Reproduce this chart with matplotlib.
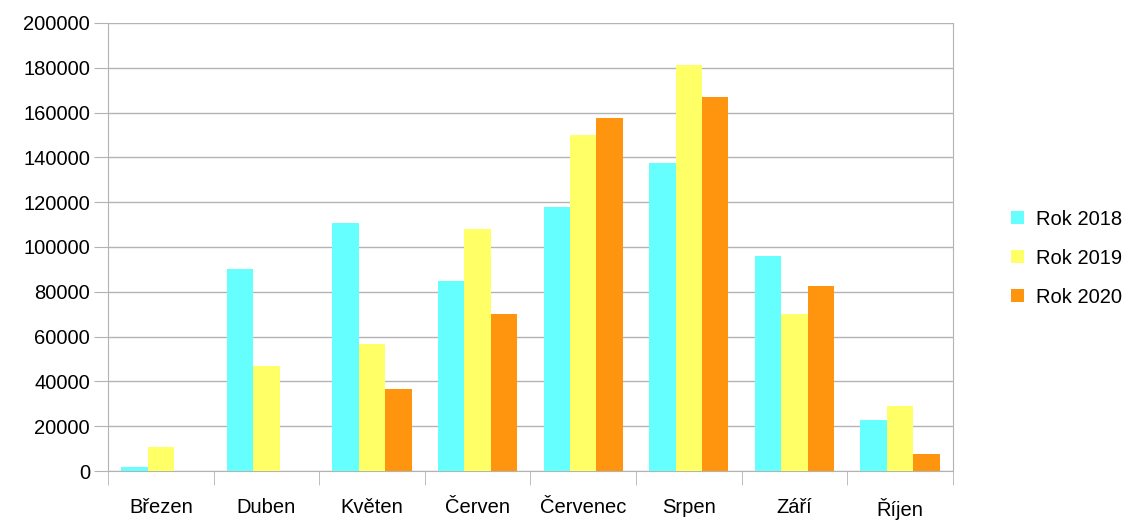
import matplotlib.pyplot as plt
import numpy as np

plt.rcParams['font.family'] = ['Liberation Sans', 'DejaVu Sans']

months = ['Březen', 'Duben', 'Květen', 'Červen', 'Červenec', 'Srpen', 'Září', 'Říjen']
rok_2018 = [1800, 90000, 110700, 84800, 117900, 137500, 96000, 22800]
rok_2019 = [10600, 47000, 56700, 108000, 150000, 181200, 70000, 29000]
rok_2020 = [0, 0, 36600, 70000, 157600, 167000, 82600, 7600]

series = [('Rok 2018', rok_2018, '#66ffff'),
          ('Rok 2019', rok_2019, '#ffff66'),
          ('Rok 2020', rok_2020, '#ff950e')]

fig = plt.figure(figsize=(11.37, 5.2), dpi=100)
ax = fig.add_axes([0.095, 0.094, 0.743, 0.862])

x = np.arange(len(months))
w = 0.25
for i, (name, vals, col) in enumerate(series):
    ax.bar(x + (i - 1) * w, vals, w, color=col, label=name, zorder=3)

ax.set_xlim(-0.5, len(months) - 0.5)
ax.set_ylim(0, 200000)
ax.set_yticks(np.arange(0, 200001, 20000))
ax.yaxis.grid(True, color='#b3b3b3', linewidth=1, zorder=0)

ax.set_xticks(x)
ax.set_xticklabels(months, fontsize=14.5)
ax.set_xticks(np.arange(-0.5, len(months)), minor=True)
ax.tick_params(axis='x', which='major', length=0, pad=19)
ax.tick_params(axis='x', which='minor', length=10, color='#b3b3b3')
ax.tick_params(axis='y', length=10, color='#b3b3b3', labelsize=14.5, pad=3)

ax.spines['top'].set_visible(False)
for s in ['left', 'right', 'bottom']:
    ax.spines[s].set_color('#b3b3b3')

ax.legend(loc='center left', bbox_to_anchor=(1.047, 0.475), frameon=False,
          fontsize=14.5, handlelength=0.65, handleheight=0.65,
          handletextpad=0.6, labelspacing=1.0)

fig.savefig('out.png', dpi=100)
